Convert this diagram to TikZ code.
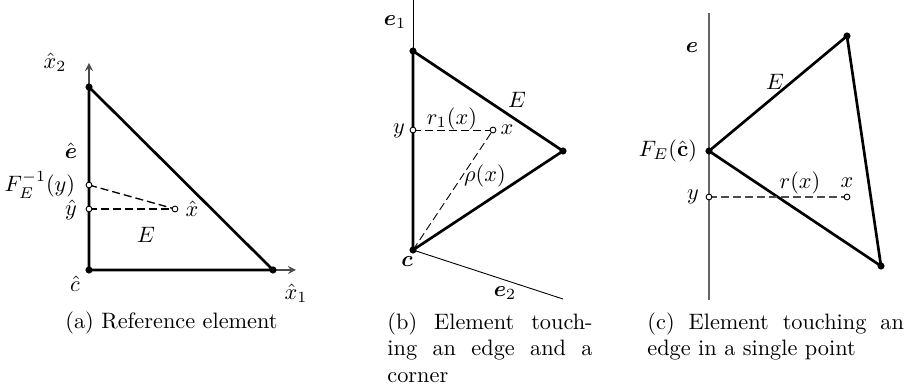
\documentclass[tikz,border=0pt]{standalone}
\usepackage{amsmath,amssymb}
\usepackage{xcolor}
\usepackage{tikz}

\begin{document}
\begin{tikzpicture}[
    x=0.4484pt, y=-0.4484pt,
    edge/.style={very thick, line join=round},
    axis/.style={draw=black!70, semithick, -stealth},
    guide/.style={semithick, dash pattern=on 3.6pt off 1.8pt},
    dot/.style={circle, fill=black, inner sep=0pt, minimum size=3.2pt},
    hole/.style={circle, draw=black, fill=white, thin, inner sep=0pt, minimum size=2.6pt},
    captext/.style={anchor=north west, align=justify, inner sep=0pt}
]
    \useasboundingbox (0,0) rectangle (916,390);

    % Reference element
    \coordinate (ca) at (89,270);
    \coordinate (ra) at (273,270);
    \coordinate (ta) at (89,87);
    \coordinate (x1end) at (296,270);
    \coordinate (x2end) at (89,63);
    \coordinate (fa) at (89,185);
    \coordinate (ya) at (89,209);
    \coordinate (xa) at (175,209);
    \draw[axis] (ca) -- (x1end);
    \draw[axis] (ca) -- (x2end);
    \draw[edge] (ca) -- (ra) -- (ta) -- cycle;
    \draw[guide] (fa) -- (xa);
    \draw[guide] (ya) -- (xa);
    \node[dot] (ca-dot) at (ca) {};
    \node[dot] (ra-dot) at (ra) {};
    \node[dot] (ta-dot) at (ta) {};
    \node[hole] (fa-pt) at (fa) {};
    \node[hole] (ya-pt) at (ya) {};
    \node[hole] (xa-pt) at (xa) {};

    % Reference element labels
    \node (x2lab) at (55,62) {$\hat{x}_2$};
    \node (x1lab) at (296,293) {$\hat{x}_1$};
    \node (elab) at (71,151) {$\hat{\boldsymbol{e}}$};
    \node[anchor=east] (flab) at (83,185) {$F_E^{-1}(y)$};
    \node (yalab) at (71,210) {$\hat{y}$};
    \node (xalab) at (192,209) {$\hat{x}$};
    \node (Ealab) at (146,235) {$E$};
    \node (calab) at (75,284) {$\hat{c}$};

    % Element touching an edge and a corner
    \coordinate (e1top) at (413,0);
    \coordinate (cb) at (413,250);
    \coordinate (tb) at (413,51);
    \coordinate (rb) at (563,151);
    \coordinate (e2end) at (563,299);
    \coordinate (yb) at (413,130);
    \coordinate (xb) at (493,130);
    \draw[thin] (e1top) -- (cb);
    \draw[thin] (cb) -- (e2end);
    \draw[edge] (cb) -- (tb) -- (rb) -- cycle;
    \draw[guide, thin] (yb) -- (xb);
    \draw[guide, thin] (cb) -- (xb);
    \node[dot] (cb-dot) at (cb) {};
    \node[dot] (tb-dot) at (tb) {};
    \node[dot] (rb-dot) at (rb) {};
    \node[hole] (yb-pt) at (yb) {};
    \node[hole] (xb-pt) at (xb) {};

    % Labels of the second element
    \node (e1lab) at (395,22) {$\boldsymbol{e}_1$};
    \node (e2lab) at (505,293) {$\boldsymbol{e}_2$};
    \node (Eblab) at (517,100) {$E$};
    \node (r1lab) at (452,119) {$r_1(x)$};
    \node (yblab) at (399,131) {$y$};
    \node (xblab) at (507,130) {$x$};
    \node (rholab) at (485,176) {$\rho(x)$};
    \node (cblab) at (407,262) {$\boldsymbol{c}$};

    % Element touching an edge in a single point
    \coordinate (etop) at (709,13);
    \coordinate (ebot) at (709,300);
    \coordinate (lc) at (709,151);
    \coordinate (tc) at (847,36);
    \coordinate (bc) at (881,266);
    \coordinate (yc) at (709,197);
    \coordinate (xc) at (847,197);
    \draw[very thick, black!60] (etop) -- (ebot);
    \draw[edge] (lc) -- (tc) -- (bc) -- cycle;
    \draw[guide, black!70] (yc) -- (xc);
    \node[dot] (lc-dot) at (lc) {};
    \node[dot] (tc-dot) at (tc) {};
    \node[dot] (bc-dot) at (bc) {};
    \node[hole] (yc-pt) at (yc) {};
    \node[hole] (xc-pt) at (xc) {};

    % Labels of the third element
    \node (ecsection) at (692,48) {$\boldsymbol{e}$};
    \node (Eclab) at (775,82) {$E$};
    \node[anchor=east] (fclab) at (705,151) {$F_E(\hat{\mathbf{c}})$};
    \node (yclab) at (693,197) {$y$};
    \node (rclab) at (800,183) {$r(x)$};
    \node (xclab) at (847,183) {$x$};

    % Captions
    \node[anchor=base] (capa) at (171.5,329) {(a) Reference element};
    \node[captext, text width=92pt] (capb) at (387,312) {(b) Element touch-\linebreak ing an edge and a corner};
    \node[captext, text width=115pt] (capc) at (647,312) {(c) Element touching an edge in a single point};

\end{tikzpicture}
\end{document}
